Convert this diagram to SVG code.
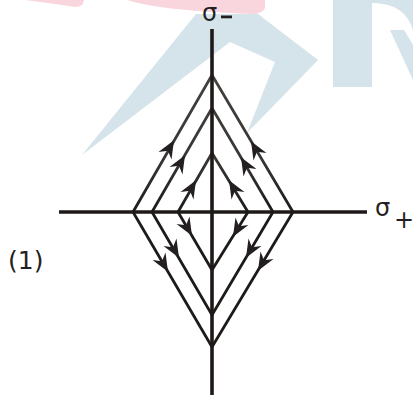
<svg xmlns="http://www.w3.org/2000/svg" xmlns:xlink="http://www.w3.org/1999/xlink" width="413" height="396" viewBox="0 0 413 396">
<style>
.wmb{fill:#d5e3ea}
.wmp{fill:#f9d6de}
.axis{stroke:#1e1a19;stroke-width:3.6;fill:none}
.dia{stroke:url(#g);stroke-width:2.8;fill:none;stroke-linejoin:miter}
.lbl{font-family:"DejaVu Sans",sans-serif;fill:#231f20}
</style>
<defs>
<linearGradient id="g" gradientUnits="userSpaceOnUse" x1="0" y1="70" x2="0" y2="215">
<stop offset="0" stop-color="#45413f"/>
<stop offset="0.6" stop-color="#3a3634"/>
<stop offset="1" stop-color="#1e1a19"/>
</linearGradient>
<path id="ah" d="M2,0 L-16,-7.5 L-10,0 L-16,7.5 Z"/>
</defs>
<g id="watermark">
<path class="wmp" d="M25,0 L84,0 L83,4 Q80,7 75,7 Q50,3 25,0 Z"/>
<path class="wmp" d="M127,0 L265,0 L265,8 Q262,14 252,14 Q195,12 160,7 Q140,4 127,0 Z"/>
<path class="wmb" d="M82,155 L196,14 L258,14 L318,60 L247,133 L275,62 L230,42 Z"/>
<path class="wmb" d="M333,0 L372,0 L372,87 L333,87 Z"/>
<path class="wmb" d="M372,0 L413,0 L413,30 Q405,3 372,3 Z"/>
<path class="wmb" d="M390,30 L404,30 L413,45 L413,80 Z"/>
</g>
<g id="connectors">
<polygon class="dia" points="133,212 212,75 293,212 212,347"/>
<polygon class="dia" points="152,212 212,108 273,212 212,315"/>
<polygon class="dia" points="178,212 212,153 248,212 212,270"/>
<g fill="#231f20">
<use xlink:href="#ah" transform="translate(173,142) rotate(-60)"/>
<use xlink:href="#ah" transform="translate(184,157) rotate(-60)"/>
<use xlink:href="#ah" transform="translate(195,182) rotate(-60)"/>
<use xlink:href="#ah" transform="translate(252,143) rotate(-120)"/>
<use xlink:href="#ah" transform="translate(242,159) rotate(-120)"/>
<use xlink:href="#ah" transform="translate(230,182) rotate(-120)"/>
<use xlink:href="#ah" transform="translate(167,270) rotate(60)"/>
<use xlink:href="#ah" transform="translate(178,256) rotate(60)"/>
<use xlink:href="#ah" transform="translate(191,234) rotate(60)"/>
<use xlink:href="#ah" transform="translate(259,269) rotate(120)"/>
<use xlink:href="#ah" transform="translate(247,256) rotate(120)"/>
<use xlink:href="#ah" transform="translate(234,235) rotate(120)"/>
</g>
</g>
<g id="axes">
<line class="axis" x1="212" y1="29" x2="212" y2="395"/>
<line class="axis" x1="59" y1="212" x2="367" y2="212"/>
</g>
<g id="labels">
<text class="lbl" x="202" y="21" font-size="24">σ</text>
<rect x="221" y="15.5" width="11" height="2.8" fill="#231f20"/>
<text class="lbl" x="375" y="216" font-size="24">σ</text>
<text class="lbl" x="394" y="228" font-size="24">+</text>
<text class="lbl" x="8" y="269" font-size="25">(1)</text>
</g>
</svg>
